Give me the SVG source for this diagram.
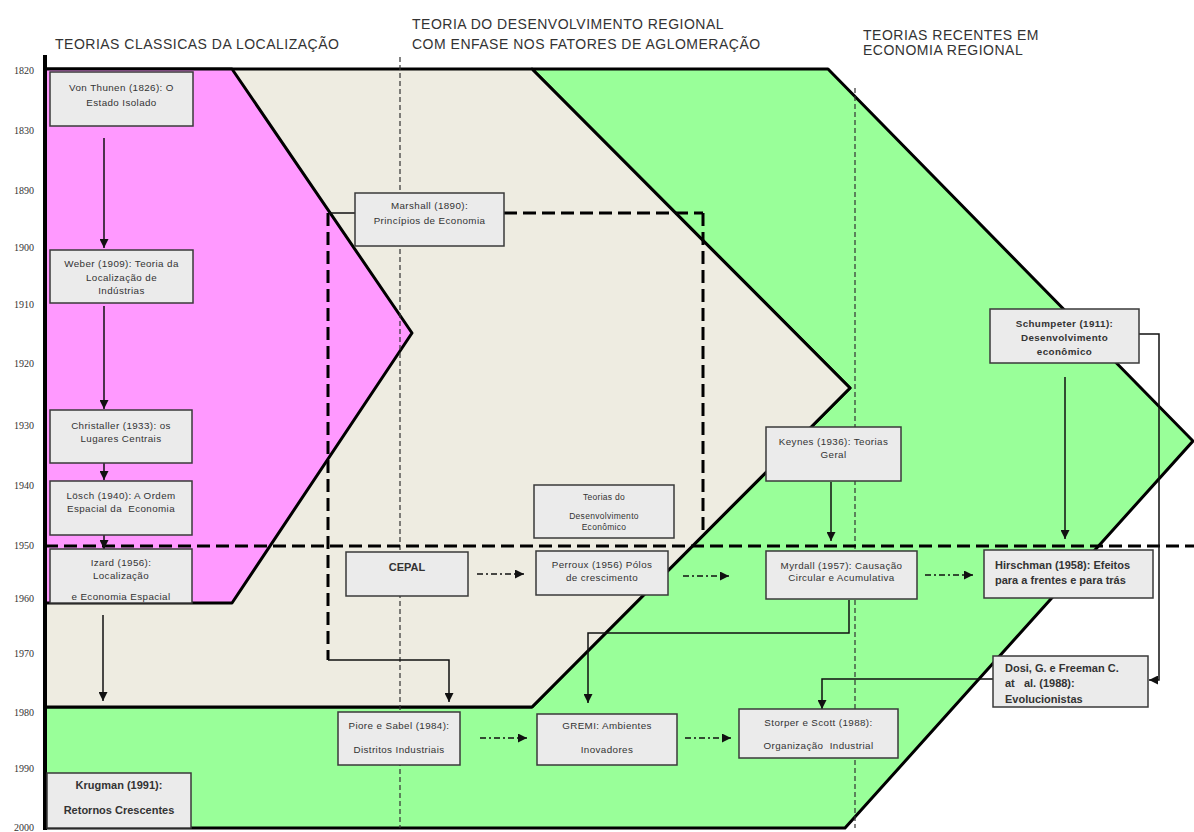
<svg xmlns="http://www.w3.org/2000/svg" width="1194" height="832" viewBox="0 0 1194 832">
<style>
.hdr{font-family:"Liberation Sans",Arial,sans-serif;font-size:14px;letter-spacing:0.5px;fill:#333}
.yr{font-family:"Liberation Serif",serif;font-size:10px;fill:#333;text-anchor:end}
.box{fill:#EBEBEB;stroke:#3a3a3a;stroke-width:1.5}
.t{font-family:"Liberation Sans",Arial,sans-serif;font-size:9.8px;letter-spacing:0.4px;fill:#333;text-anchor:middle}
.ts{font-family:"Liberation Sans",Arial,sans-serif;font-size:8.5px;letter-spacing:0.3px;fill:#333;text-anchor:middle}
.tb{font-family:"Liberation Sans",Arial,sans-serif;font-size:11px;font-weight:bold;fill:#333}
.area{stroke:#000;stroke-width:3;stroke-linejoin:round}
.solid{fill:none;stroke:#111;stroke-width:1.5}
.dd{fill:none;stroke:#111;stroke-width:1.3;stroke-dasharray:6 3 2 3}
.thick{fill:none;stroke:#000;stroke-width:3;stroke-dasharray:13 6}
.dot{fill:none;stroke:#333;stroke-width:1.2;stroke-dasharray:5 3}
</style>
<defs>
<marker id="ah" viewBox="0 0 10 10" refX="10" refY="5" markerWidth="9" markerHeight="9" markerUnits="userSpaceOnUse" orient="auto"><path d="M0,0 L10,5 L0,10 z" fill="#111"/></marker>
</defs>
<rect width="1194" height="832" fill="#fff"/>
<g id="areas">
<polygon class="area" fill="#99FF99" points="532,69 828,69 1193,441 845,828 45,828 45,707 532,707 850,388"/>
<polygon class="area" fill="#EEECE1" points="45,69 532,69 850,388 532,707 45,707"/>
<polygon class="area" fill="#FF99FF" points="45,69 232,69 412,333 232,603 45,603"/>
<line x1="45" y1="55" x2="45" y2="830" stroke="#000" stroke-width="4"/>
</g>
<g id="headers">
<text class="hdr" x="55" y="49">TEORIAS CLASSICAS DA LOCALIZAÇÃO</text>
<text class="hdr" x="412" y="29">TEORIA DO DESENVOLVIMENTO REGIONAL</text>
<text class="hdr" x="412" y="49">COM ENFASE NOS FATORES DE AGLOMERAÇÃO</text>
<text class="hdr" x="863" y="40">TEORIAS RECENTES EM</text>
<text class="hdr" x="863" y="55">ECONOMIA REGIONAL</text>
</g>
<g id="years">
<text class="yr" x="34" y="74">1820</text>
<text class="yr" x="34" y="134">1830</text>
<text class="yr" x="34" y="194">1890</text>
<text class="yr" x="34" y="251">1900</text>
<text class="yr" x="34" y="308">1910</text>
<text class="yr" x="34" y="367">1920</text>
<text class="yr" x="34" y="429">1930</text>
<text class="yr" x="34" y="489">1940</text>
<text class="yr" x="34" y="549">1950</text>
<text class="yr" x="34" y="602">1960</text>
<text class="yr" x="34" y="657">1970</text>
<text class="yr" x="34" y="716">1980</text>
<text class="yr" x="34" y="772">1990</text>
<text class="yr" x="34" y="831">2000</text>
</g>
<g id="connectors">
<line class="dot" x1="400" y1="57" x2="400" y2="828"/>
<line class="dot" x1="855" y1="88" x2="855" y2="828"/>
<line class="thick" x1="45" y1="546" x2="1194" y2="546"/>
<polyline class="solid" points="355,213 328,213"/>
<line class="thick" x1="328" y1="213" x2="328" y2="660"/>
<polyline class="solid" points="328,660 449,660 449,702" marker-end="url(#ah)"/>
<line class="thick" x1="504" y1="213" x2="703" y2="213"/>
<line class="thick" x1="703" y1="213" x2="703" y2="532"/>
<line class="solid" x1="104" y1="138" x2="104" y2="248" marker-end="url(#ah)"/>
<line class="solid" x1="104" y1="306" x2="104" y2="409" marker-end="url(#ah)"/>
<line class="solid" x1="104" y1="463" x2="104" y2="480" marker-end="url(#ah)"/>
<line class="solid" x1="104" y1="535" x2="104" y2="549" marker-end="url(#ah)"/>
<line class="solid" x1="103" y1="615" x2="103" y2="701" marker-end="url(#ah)"/>
<line class="dd" x1="477" y1="574" x2="524" y2="574" marker-end="url(#ah)"/>
<line class="dd" x1="683" y1="576" x2="729" y2="576" marker-end="url(#ah)"/>
<line class="dd" x1="925" y1="575" x2="973" y2="575" marker-end="url(#ah)"/>
<line class="dd" x1="480" y1="738" x2="527" y2="738" marker-end="url(#ah)"/>
<line class="dd" x1="685" y1="738" x2="731" y2="738" marker-end="url(#ah)"/>
<line class="solid" x1="831" y1="482" x2="831" y2="541" marker-end="url(#ah)"/>
<line class="solid" x1="1065" y1="377" x2="1065" y2="539" marker-end="url(#ah)"/>
<polyline class="solid" points="849,600 849,633 588,633 588,703" marker-end="url(#ah)"/>
<polyline class="solid" points="1139,334 1159,334 1159,680 1149,680" marker-end="url(#ah)"/>
<polyline class="solid" points="993,679 822,679 822,709" marker-end="url(#ah)"/>
</g>
<g id="von-thunen"><rect class="box" x="50" y="72" width="143" height="54"/><text class="t" x="121.5" y="91">Von Thunen (1826): O</text><text class="t" x="121.5" y="106">Estado Isolado</text></g>
<g id="weber"><rect class="box" x="50" y="250" width="143" height="53"/><text class="t" x="121.5" y="267">Weber (1909): Teoria da</text><text class="t" x="121.5" y="281">Localização de</text><text class="t" x="121.5" y="294">Indústrias</text></g>
<g id="christaller"><rect class="box" x="50" y="410" width="142" height="53"/><text class="t" x="121" y="429">Christaller (1933): os</text><text class="t" x="121" y="442">Lugares Centrais</text></g>
<g id="losch"><rect class="box" x="50" y="481" width="142" height="54"/><text class="t" x="121" y="499">Lösch (1940): A Ordem</text><text class="t" x="121" y="512">Espacial da&#160; Economia</text></g>
<g id="izard"><rect class="box" x="50" y="549" width="142" height="54"/><text class="t" x="121" y="566">Izard (1956):</text><text class="t" x="121" y="579">Localização</text><text class="t" x="121" y="600">e Economia Espacial</text></g>
<g id="krugman"><rect class="box" x="47" y="773" width="144" height="55"/><text class="tb" x="119" y="789" text-anchor="middle">Krugman (1991):</text><text class="tb" x="119" y="814" text-anchor="middle">Retornos Crescentes</text></g>
<g id="marshall"><rect class="box" x="355" y="193" width="149" height="53"/><text class="t" x="429.5" y="209">Marshall (1890):</text><text class="t" x="429.5" y="224">Princípios de Economia</text></g>
<g id="cepal"><rect class="box" x="346" y="552" width="122" height="44"/><text class="tb" x="407" y="571" text-anchor="middle">CEPAL</text></g>
<g id="teorias-desenvolvimento"><rect class="box" x="534" y="485" width="140" height="53"/><text class="ts" x="604" y="500">Teorias do</text><text class="ts" x="604" y="519">Desenvolvimento</text><text class="ts" x="604" y="530">Econômico</text></g>
<g id="perroux"><rect class="box" x="536" y="551" width="132" height="44"/><text class="t" x="602" y="568">Perroux (1956) Pólos</text><text class="t" x="602" y="581">de crescimento</text></g>
<g id="keynes"><rect class="box" x="766" y="427" width="135" height="54"/><text class="t" x="833.5" y="445">Keynes (1936): Teorias</text><text class="t" x="833.5" y="458">Geral</text></g>
<g id="myrdall"><rect class="box" x="766" y="551" width="151" height="48"/><text class="t" x="841.5" y="569">Myrdall (1957): Causação</text><text class="t" x="841.5" y="581">Circular e Acumulativa</text></g>
<g id="hirschman"><rect class="box" x="984" y="550" width="169" height="48"/><text class="tb" x="995" y="569">Hirschman (1958): Efeitos</text><text class="tb" x="995" y="584">para a frentes e para trás</text></g>
<g id="schumpeter"><rect class="box" x="990" y="309" width="149" height="54"/><text class="t" x="1064.5" y="327" font-weight="bold" font-size="9">Schumpeter (1911):</text><text class="t" x="1064.5" y="341" font-weight="bold" font-size="9">Desenvolvimento</text><text class="t" x="1064.5" y="355" font-weight="bold" font-size="9">econômico</text></g>
<g id="dosi"><rect class="box" x="993" y="656" width="155" height="51"/><text class="tb" x="1005" y="672">Dosi, G. e Freeman C.</text><text class="tb" x="1005" y="687">at&#160;&#160; al. (1988):</text><text class="tb" x="1005" y="703">Evolucionistas</text></g>
<g id="piore-sabel"><rect class="box" x="338" y="712" width="122" height="53"/><text class="t" x="399" y="729">Piore e Sabel (1984):</text><text class="t" x="399" y="753">Distritos Industriais</text></g>
<g id="gremi"><rect class="box" x="537" y="714" width="140" height="51"/><text class="t" x="607" y="729">GREMI: Ambientes</text><text class="t" x="607" y="753">Inovadores</text></g>
<g id="storper-scott"><rect class="box" x="739" y="709" width="159" height="49"/><text class="t" x="818.5" y="726">Storper e Scott (1988):</text><text class="t" x="818.5" y="749">Organização&#160; Industrial</text></g>
</svg>
